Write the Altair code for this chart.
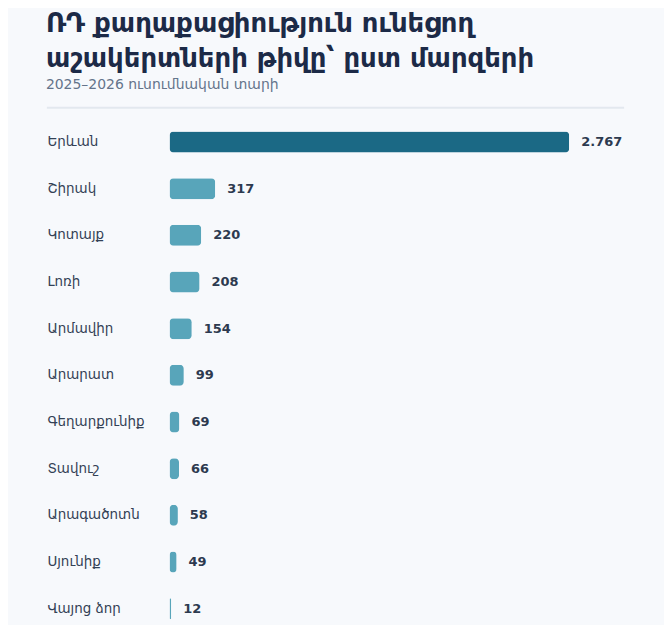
import altair as alt
import pandas as pd

regions = ["Երևան", "Շիրակ", "Կոտայք", "Լոռի", "Արմավիր", "Արարատ",
           "Գեղարքունիք", "Տավուշ", "Արագածոտն", "Սյունիք", "Վայոց ձոր"]
values = [2767, 317, 220, 208, 154, 99, 69, 66, 58, 49, 12]
labels = [f"{v:,}".replace(",", ".") for v in values]

df = pd.DataFrame({"region": regions, "value": values, "label": labels})

FONT = "DejaVu Sans"
DARK = "#1b6985"
LIGHT = "#58a5ba"

y_enc = alt.Y("region:N", sort=None,
              scale=alt.Scale(paddingInner=0.55),
              axis=alt.Axis(title=None, domain=False, ticks=False,
                            labelAlign="left", labelPadding=123,
                            labelFont=FONT, labelFontSize=13.5,
                            labelColor="#334155", labelLimit=200))
x_enc = alt.X("value:Q", scale=alt.Scale(domain=[0, max(values)], range=[0, 401], nice=False),
              axis=None)

base = alt.Chart(df)

bars = base.mark_bar(cornerRadius=4).encode(
    y=y_enc,
    x=x_enc,
    color=alt.condition(alt.datum.region == "Երևան", alt.value(DARK), alt.value(LIGHT)),
)

text = base.mark_text(align="left", baseline="middle", dx=12, font=FONT,
                      fontSize=13, fontWeight="bold", color="#2d3a4f").encode(
    y=alt.Y("region:N", sort=None),
    x=x_enc,
    text="label:N",
)

rule = alt.Chart(pd.DataFrame({"a": [0]})).mark_rule(color="#e3e8ef", strokeWidth=2).encode(
    x=alt.value(-123), x2=alt.value(456), y=alt.value(-11)
)

chart = alt.layer(rule, bars, text).properties(
    width=456,
    height=515,
    padding={"left": 38, "top": 2, "right": 39, "bottom": 0},
    background="#f7f9fc",
    title=alt.TitleParams(
        text=["ՌԴ քաղաքացիություն ունեցող", "աշակերտների թիվը՝ ըստ մարզերի"],
        subtitle="2025–2026 ուսումնական տարի",
        anchor="start", frame="bounds",
        font=FONT, fontSize=26, fontWeight="bold", color="#1c2a47", lineHeight=35,
        subtitleFont=FONT, subtitleFontSize=14, subtitleColor="#64748b",
        subtitlePadding=6, offset=15,
    ),
).configure_view(stroke=None)

chart.save("out.html", embed_options={"renderer": "svg", "actions": False})
